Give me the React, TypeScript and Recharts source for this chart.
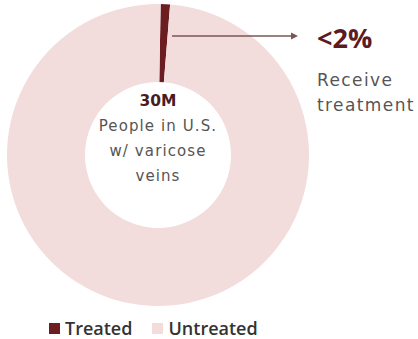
import { PieChart, Pie, Cell, Legend, Label } from 'recharts'

// share of people in the U.S. with varicose veins
const groups = ['Treated', 'Untreated']
const shares = [1, 99]
const colors = ['#6b1d22', '#f2dcdc']

const headline = '30M'
const centerLines = ['People  in U.S.', 'w/ varicose', 'veins']
const callout = '<2%'
const calloutLines = ['Receive', 'treatment']

const data = groups.map((name, i) => ({ name, value: shares[i] }))

const CX = 158
const CY = 155

function CenterNotes() {
  return (
    <g>
      <text x={CX} y={CY - 49} textAnchor="middle" fontFamily="DejaVu Sans" fontWeight="bold" fontSize={15.5} fill="#4a1c1f">
        {headline}
      </text>
      {centerLines.map((t, i) => (
        <text key={t} x={CX} y={CY - 24 + i * 25} textAnchor="middle" fontFamily="DejaVu Sans" fontSize={15} letterSpacing={1.1} fill="#555">
          {t}
        </text>
      ))}
      <line x1={CX + 14} y1={36} x2={293} y2={36} stroke="#7a5656" strokeWidth={1.5} />
      <path d="M 291 32.5 L 298 36 L 291 39.5 Z" fill="#7a5656" />
      <text x={317} y={48} fontFamily="Open Sans" fontWeight="bold" fontSize={27} fill="#5e1b1f">
        {callout}
      </text>
      {calloutLines.map((t, i) => (
        <text key={t} x={317} y={86 + i * 25} fontFamily="DejaVu Sans" fontSize={17} letterSpacing={1.4} fill="#555">
          {t}
        </text>
      ))}
    </g>
  )
}

function LegendRow({ payload }: any) {
  return (
    <div style={{ display: 'flex', alignItems: 'center', fontFamily: 'Open Sans', fontWeight: 600, fontSize: 18, lineHeight: '18px', color: '#333' }}>
      {(payload || []).map((p: any, i: number) => (
        <div key={p.value} style={{ display: 'flex', alignItems: 'center', marginRight: i === 0 ? 20 : 0 }}>
          <span style={{ display: 'inline-block', width: 11, height: 11, background: p.color, marginRight: 5 }} />
          <span>{p.value}</span>
        </div>
      ))}
    </div>
  )
}

export default function App() {
  return (
    <div style={{ position: 'absolute', left: 0, top: 0, background: '#fff' }}>
      <PieChart width={418} height={339} margin={{ top: 0, right: 0, bottom: 0, left: 0 }}>
        <Pie
          data={data}
          dataKey="value"
          nameKey="name"
          cx={CX}
          cy={CY}
          innerRadius={73}
          outerRadius={151}
          startAngle={89}
          endAngle={-271}
          stroke="none"
          isAnimationActive={false}
        >
          {data.map((d, i) => (
            <Cell key={d.name} fill={colors[i]} />
          ))}
          <Label position="center" content={CenterNotes} />
        </Pie>
        <Legend
          content={LegendRow}
          wrapperStyle={{ position: 'absolute', left: 49, top: 319, width: 260 }}
        />
      </PieChart>
    </div>
  )
}
